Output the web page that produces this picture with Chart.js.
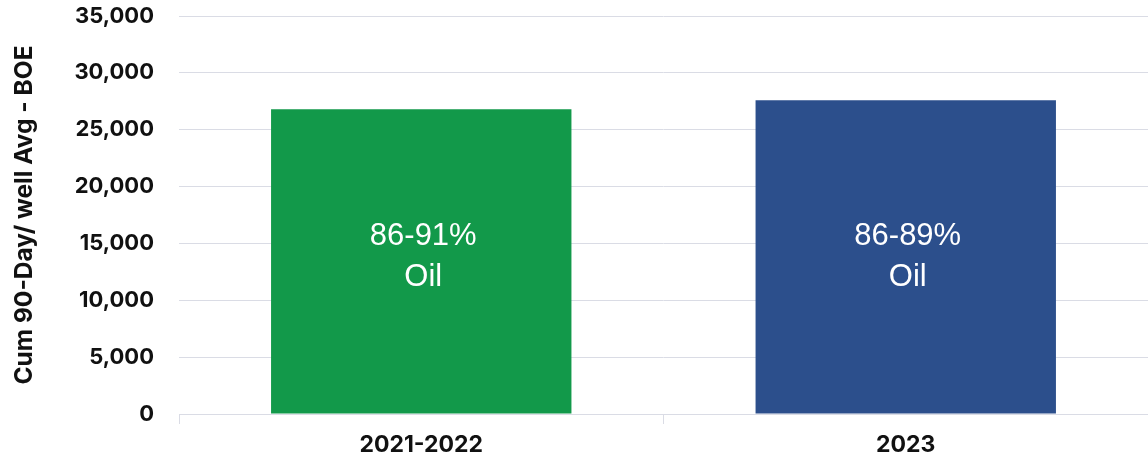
<!DOCTYPE html>
<html>
<head>
<meta charset="utf-8">
<script src="https://cdn.jsdelivr.net/npm/chart.js@4.4.0/dist/chart.umd.min.js"></script>
<style>
  html, body { margin: 0; padding: 0; background: #fff; }
  #wrap { width: 1148px; height: 460px; }
</style>
</head>
<body>
<div id="wrap"><canvas id="chart" width="1148" height="460"></canvas></div>
<script>
// Average cumulative 90-day production per well (BOE)
const periods = ['2021-2022', '2023'];
const cumBoe = [26800, 27600];
const oilShareLines = [['86-91%', 'Oil'], ['86-89%', 'Oil']];
const barColors = ['#12994a', '#2c4f8c'];

const yMin = 0;
const yMax = 35000;
const yStep = 5000;

const BOLD_FONT = "Inter, 'Liberation Sans', Arial, sans-serif";
const TEXT_FONT = "'Liberation Sans', Arial, sans-serif";
const GRID = '#dadce5';

// writes the oil-share text in the middle of each bar
const barTextPlugin = {
  id: 'barText',
  afterDatasetsDraw(chart) {
    const meta = chart.getDatasetMeta(0);
    const ctx = chart.ctx;
    ctx.save();
    ctx.fillStyle = '#ffffff';
    ctx.font = '31px ' + TEXT_FONT;
    ctx.textAlign = 'center';
    ctx.textBaseline = 'middle';
    const yMid = chart.scales.y.getPixelForValue(13800);
    meta.data.forEach((bar, i) => {
      const lines = oilShareLines[i];
      lines.forEach((t, j) => {
        ctx.fillText(t, bar.x + 2, yMid + (j - (lines.length - 1) / 2) * 41);
      });
    });
    ctx.restore();
  }
};

new Chart(document.getElementById('chart'), {
  type: 'bar',
  data: {
    labels: periods,
    datasets: [{
      data: cumBoe,
      backgroundColor: barColors,
      borderWidth: 0,
      barPercentage: 0.62,
      categoryPercentage: 1
    }]
  },
  options: {
    responsive: false,
    animation: false,
    layout: { padding: { top: 16, right: -3, left: 0, bottom: 0 } },
    plugins: {
      legend: { display: false },
      tooltip: { enabled: false }
    },
    scales: {
      x: {
        afterFit: s => { s.height = 46; },
        grid: {
          display: true,
          drawOnChartArea: false,
          color: GRID,
          tickLength: 10,
          offset: true
        },
        border: { display: true, color: GRID },
        ticks: {
          color: '#111',
          font: { family: BOLD_FONT, size: 23, weight: 'bold' },
          padding: 7
        }
      },
      y: {
        min: yMin,
        max: yMax,
        afterFit: s => { s.width = 179; s.paddingTop = 0; s.paddingBottom = 0; },
        grid: { color: GRID, drawTicks: false },
        border: { display: false },
        ticks: {
          stepSize: yStep,
          color: '#111',
          padding: 25,
          font: { family: BOLD_FONT, size: 22, weight: 'bold' },
          callback: v => v.toLocaleString('en-US')
        },
        title: {
          display: true,
          text: 'Cum 90-Day/ well Avg - BOE',
          color: '#111',
          font: { family: BOLD_FONT, size: 24.5, weight: 'bold' },
          padding: { top: 10, bottom: 0 }
        }
      }
    }
  },
  plugins: [barTextPlugin]
});
</script>
</body>
</html>
